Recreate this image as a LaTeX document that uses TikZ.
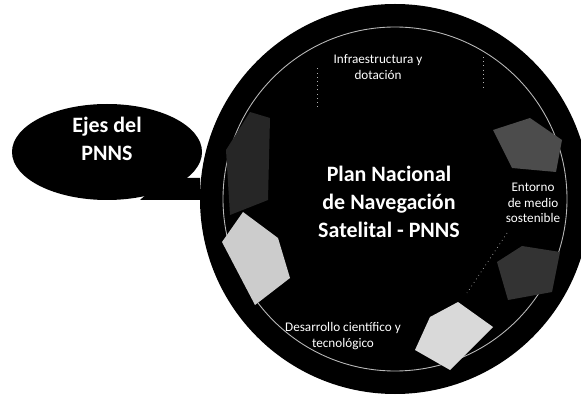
\documentclass[tikz,border=0pt]{standalone}
\usepackage{fontspec}
\setmainfont{Carlito}
\usetikzlibrary{positioning}

\begin{document}
\begin{tikzpicture}[x=0.2mm,y=-0.2mm,
  bigtext/.style={text=white,font=\bfseries\fontsize{12.5}{16}\selectfont,align=center,inner sep=0pt},
  ejetext/.style={text=white,font=\fontsize{7.5}{9}\selectfont,align=center,inner sep=0pt},
  segline/.style={gray!60,line width=0.4pt,dotted}]
\useasboundingbox (0,0) rectangle (581,402);

% rueda
\fill[black] (395,199) circle (195);
\draw[gray!55,line width=0.5pt] (395,199) circle (172);

% segmentos
\fill[black!85] (226,150) -- (250,112) -- (270,118) -- (268,200) -- (230,215) -- cycle;
\fill[gray!40] (222,242) -- (243,212) -- (278,238) -- (290,278) -- (255,305) -- cycle;
\fill[gray!30] (415,350) -- (430,317) -- (458,302) -- (493,327) -- (450,370) -- cycle;
\fill[black!70] (493,130) -- (530,118) -- (562,140) -- (556,172) -- (512,168) -- cycle;
\fill[black!80] (497,262) -- (522,246) -- (560,252) -- (552,292) -- (508,300) -- cycle;
\draw[segline] (317,107) -- (317,65);
\draw[segline] (483,57) -- (483,88);
\draw[segline] (507,233) -- (467,293);

% textos
\node[bigtext] (plan) at (389,202) {Plan Nacional\\de Navegación\\Satelital - PNNS};
\node[ejetext] (infra) at (378,67) {Infraestructura y\\dotación};
\node[ejetext] (entorno) at (533,203) {Entorno\\de medio\\sostenible};
\node[ejetext] (desarrollo) at (343,336) {Desarrollo científico y\\tecnológico};

% globo
\fill[black] (107,152) ellipse (95 and 48);
\fill[black] (165,178) -- (200,178) -- (200,200) -- (140,200) -- cycle;
\node[bigtext] (ejes) at (107,139) {Ejes del\\PNNS};
\end{tikzpicture}
\end{document}
